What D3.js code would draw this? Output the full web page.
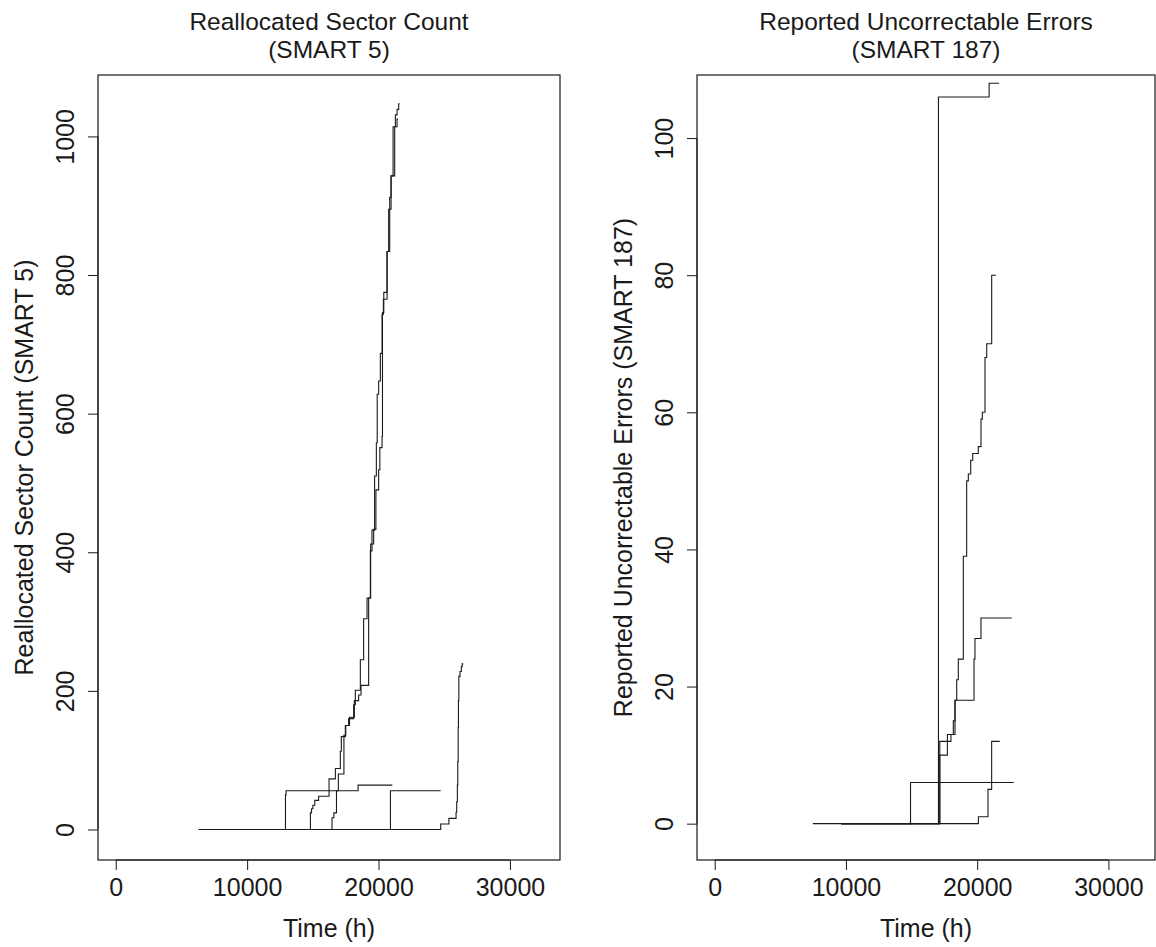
<!DOCTYPE html>
<html><head><meta charset="utf-8">
<script src="https://cdn.jsdelivr.net/npm/d3@7"></script>
<style>
body{margin:0;background:#fff}
text{font-family:"Liberation Sans",Arial,Helvetica,sans-serif;fill:#1a1a1a}
</style>
</head><body>
<svg id="chart" width="1156" height="947"></svg>
<script>
// ---------- data ----------
const xTickValues = [0, 10000, 20000, 30000];
const smart5Ticks = [0, 200, 400, 600, 800, 1000];
const smart187Ticks = [0, 20, 40, 60, 80, 100];

// SMART 5 series: [hours, count] step points
const s5Drive1 = [[6300,0],[12918,50],[12960,56],[18443,64],[21049,64]];
const s5Drive2 = [[9700,0],[20907,56],[24732,56]];
const s5Drive3 = [[9700,0],[24732,8],[25355,16],[25900,25],[25950,40],[26000,64],[26030,98],[26060,147],[26080,186],[26110,221],[26200,228],[26300,235],[26364,239],[26450,239]];
const s5Drive4 = [[11000,0],[14816,24],[14900,30],[15000,35],[15150,42],[15440,48],[16233,73],[16714,88],[17091,113],[17168,134],[17472,150],[17723,160],[18104,180],[18234,201],[18615,245],[18866,304],[19125,334],[19377,402],[19500,432],[19700,510],[19834,558],[19900,628],[20009,647],[20139,687],[20268,743],[20368,765],[20649,834],[20771,895],[20954,943],[21106,1014],[21282,1031],[21411,1039],[21533,1047],[21600,1047]];
const s5Drive5 = [[12000,0],[16460,17],[16601,24],[16800,56],[16941,80],[17366,136],[17508,150],[17791,162],[18158,186],[18485,194],[18668,208],[19247,334],[19400,412],[19628,433],[19800,490],[20009,519],[20100,551],[20268,567],[20300,746],[20400,775],[20649,834],[20850,912],[20954,943],[21228,1014],[21411,1025],[21480,1025]];

// SMART 187 series
const s187Drive1 = [[7475,0],[17050,106],[20910,108],[21670,108]];
const s187Drive2 = [[9640,0],[14921,6],[22790,6]];
const s187Drive3 = [[9640,0],[20092,1],[20822,5],[21103,12],[21721,12]];
const s187Drive4 = [[9640,0],[17150,10],[17730,12],[18000,13],[18181,15],[18310,18],[18440,21],[18562,24],[18943,39],[19200,50],[19325,51],[19506,53],[19659,54],[20085,55],[20291,59],[20390,60],[20596,68],[20725,70],[21106,80],[21434,80]];
const s187Drive5 = [[9640,0],[17150,12],[17730,13],[18310,18],[19760,24],[19830,27],[20290,30],[22630,30]];

const smart5Series = [s5Drive1, s5Drive2, s5Drive3, s5Drive4, s5Drive5];
const smart187Series = [s187Drive1, s187Drive2, s187Drive3, s187Drive4, s187Drive5];

const titles5 = ["Reallocated Sector Count", "(SMART 5)"];
const titles187 = ["Reported Uncorrectable Errors", "(SMART 187)"];
const yLabel5 = "Reallocated Sector Count (SMART 5)";
const yLabel187 = "Reported Uncorrectable Errors (SMART 187)";
const xLabel = "Time (h)";

// ---------- drawing ----------
const svg = d3.select("#chart");
const INK = "#1a1a1a";
const TICK_FS = "25px", LAB_FS = "25px", TITLE_FS = "24.5px";

function panel(opts){
  const {left, right, top, bottom, xDomain, yDomain, series, yTicks, titles, yLabel} = opts;
  const x = d3.scaleLinear().domain(xDomain).range([left, right]);
  const y = d3.scaleLinear().domain(yDomain).range([bottom, top]);
  const g = svg.append("g");
  const line = d3.line().x(d => x(d[0])).y(d => y(d[1])).curve(d3.curveStepAfter);
  series.forEach(s => {
    g.append("path").attr("d", line(s)).attr("fill","none")
     .attr("stroke",INK).attr("stroke-width",1.1);
  });
  g.append("rect").attr("x",left).attr("y",top).attr("width",right-left).attr("height",bottom-top)
   .attr("fill","none").attr("stroke",INK).attr("stroke-width",1.2);
  // x axis
  const xa = g.append("g").attr("transform",`translate(0,${bottom})`)
    .call(d3.axisBottom(x).tickValues(xTickValues).tickFormat(d3.format("d")).tickSize(10));
  xa.select(".domain").attr("d", `M${x(xTickValues[0])},0H${x(xTickValues[xTickValues.length-1])}`);
  xa.selectAll("text").style("font-size",TICK_FS).attr("fill",INK)
    .attr("font-family","Liberation Sans, Arial, sans-serif").attr("y",36).attr("dy",null);
  xa.selectAll("line,.domain").attr("stroke",INK);
  // y axis
  const ya = g.append("g").attr("transform",`translate(${left},0)`)
    .call(d3.axisLeft(y).tickValues(yTicks).tickFormat(d3.format("d")).tickSize(10));
  ya.select(".domain").attr("d", `M0,${y(yTicks[0])}V${y(yTicks[yTicks.length-1])}`);
  ya.selectAll("line,.domain").attr("stroke",INK);
  ya.selectAll("text")
    .style("font-size",TICK_FS).attr("fill",INK).attr("font-family","Liberation Sans, Arial, sans-serif")
    .attr("text-anchor","middle").attr("dy",null).attr("x",null)
    .attr("transform", `translate(-24,0) rotate(-90)`);
  // titles
  const cx = (left+right)/2;
  g.append("text").attr("x",cx).attr("y",30).attr("text-anchor","middle").style("font-size",TITLE_FS).text(titles[0]);
  g.append("text").attr("x",cx).attr("y",58).attr("text-anchor","middle").style("font-size",TITLE_FS).text(titles[1]);
  g.append("text").attr("x",cx).attr("y",937).attr("text-anchor","middle").style("font-size",LAB_FS).text(xLabel);
  const cy = (top+bottom)/2;
  g.append("text").attr("transform",`translate(${left-65},${cy}) rotate(-90)`).attr("text-anchor","middle")
   .style("font-size",LAB_FS).text(yLabel);
}

panel({left:98, right:560, top:75, bottom:860, xDomain:[-1350,33810], yDomain:[-44,1088.6],
  series:smart5Series, yTicks:smart5Ticks, titles:titles5, yLabel:yLabel5});
panel({left:697, right:1155, top:75, bottom:860, xDomain:[-1350,33550], yDomain:[-5.3,109.2],
  series:smart187Series, yTicks:smart187Ticks, titles:titles187, yLabel:yLabel187});
</script>
</body></html>
